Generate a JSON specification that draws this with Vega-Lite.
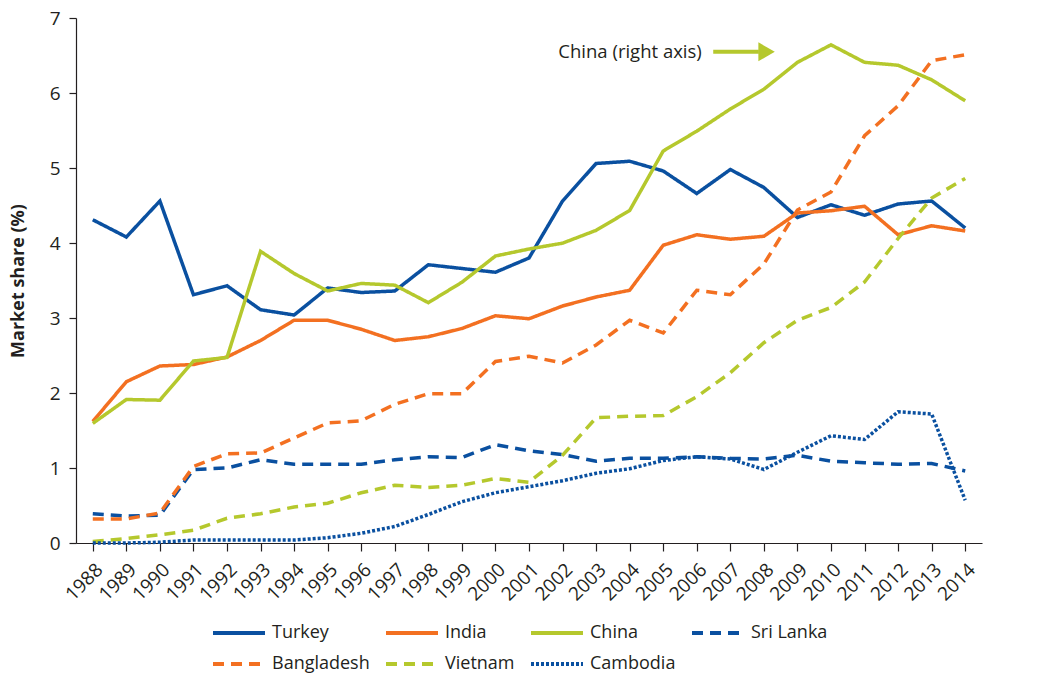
{
  "$schema": "https://vega.github.io/schema/vega-lite/v6.json",
  "width": 906,
  "height": 525,
  "autosize": "none",
  "padding": {"left": 76, "top": 18, "right": 82, "bottom": 131},
  "background": "white",
  "config": {
    "view": {"stroke": null},
    "font": "Open Sans",
    "axis": {
      "grid": false,
      "domainColor": "#231f20",
      "tickColor": "#231f20",
      "labelColor": "#231f20",
      "titleColor": "#231f20",
      "labelFont": "Open Sans",
      "titleFont": "Open Sans",
      "labelFontSize": 19,
      "titleFontSize": 18,
      "titleFontWeight": "bold",
      "domainWidth": 1.2,
      "tickWidth": 1.2,
      "tickSize": 7
    },
    "legend": {
      "labelFont": "Open Sans",
      "labelFontSize": 18,
      "labelColor": "#231f20"
    }
  },
  "datasets": {
    "shares": [
      {"year":1988,"country":"Turkey","share":4.31},{"year":1989,"country":"Turkey","share":4.08},{"year":1990,"country":"Turkey","share":4.56},{"year":1991,"country":"Turkey","share":3.31},{"year":1992,"country":"Turkey","share":3.43},{"year":1993,"country":"Turkey","share":3.11},{"year":1994,"country":"Turkey","share":3.04},{"year":1995,"country":"Turkey","share":3.40},{"year":1996,"country":"Turkey","share":3.34},{"year":1997,"country":"Turkey","share":3.36},{"year":1998,"country":"Turkey","share":3.71},{"year":1999,"country":"Turkey","share":3.66},{"year":2000,"country":"Turkey","share":3.61},{"year":2001,"country":"Turkey","share":3.80},{"year":2002,"country":"Turkey","share":4.56},{"year":2003,"country":"Turkey","share":5.06},{"year":2004,"country":"Turkey","share":5.09},{"year":2005,"country":"Turkey","share":4.96},{"year":2006,"country":"Turkey","share":4.66},{"year":2007,"country":"Turkey","share":4.98},{"year":2008,"country":"Turkey","share":4.74},{"year":2009,"country":"Turkey","share":4.34},{"year":2010,"country":"Turkey","share":4.51},{"year":2011,"country":"Turkey","share":4.37},{"year":2012,"country":"Turkey","share":4.52},{"year":2013,"country":"Turkey","share":4.56},{"year":2014,"country":"Turkey","share":4.20},
      {"year":1988,"country":"India","share":1.62},{"year":1989,"country":"India","share":2.15},{"year":1990,"country":"India","share":2.36},{"year":1991,"country":"India","share":2.38},{"year":1992,"country":"India","share":2.48},{"year":1993,"country":"India","share":2.70},{"year":1994,"country":"India","share":2.97},{"year":1995,"country":"India","share":2.97},{"year":1996,"country":"India","share":2.85},{"year":1997,"country":"India","share":2.70},{"year":1998,"country":"India","share":2.75},{"year":1999,"country":"India","share":2.86},{"year":2000,"country":"India","share":3.03},{"year":2001,"country":"India","share":2.99},{"year":2002,"country":"India","share":3.16},{"year":2003,"country":"India","share":3.28},{"year":2004,"country":"India","share":3.37},{"year":2005,"country":"India","share":3.97},{"year":2006,"country":"India","share":4.11},{"year":2007,"country":"India","share":4.05},{"year":2008,"country":"India","share":4.09},{"year":2009,"country":"India","share":4.40},{"year":2010,"country":"India","share":4.43},{"year":2011,"country":"India","share":4.49},{"year":2012,"country":"India","share":4.11},{"year":2013,"country":"India","share":4.23},{"year":2014,"country":"India","share":4.16},
      {"year":1988,"country":"China","share":10.25},{"year":1989,"country":"China","share":12.3},{"year":1990,"country":"China","share":12.24},{"year":1991,"country":"China","share":15.6},{"year":1992,"country":"China","share":15.9},{"year":1993,"country":"China","share":25.0},{"year":1994,"country":"China","share":23.1},{"year":1995,"country":"China","share":21.6},{"year":1996,"country":"China","share":22.25},{"year":1997,"country":"China","share":22.1},{"year":1998,"country":"China","share":20.6},{"year":1999,"country":"China","share":22.35},{"year":2000,"country":"China","share":24.6},{"year":2001,"country":"China","share":25.2},{"year":2002,"country":"China","share":25.7},{"year":2003,"country":"China","share":26.8},{"year":2004,"country":"China","share":28.5},{"year":2005,"country":"China","share":33.6},{"year":2006,"country":"China","share":35.3},{"year":2007,"country":"China","share":37.2},{"year":2008,"country":"China","share":38.9},{"year":2009,"country":"China","share":41.2},{"year":2010,"country":"China","share":42.7},{"year":2011,"country":"China","share":41.2},{"year":2012,"country":"China","share":40.95},{"year":2013,"country":"China","share":39.7},{"year":2014,"country":"China","share":37.9},
      {"year":1988,"country":"Sri Lanka","share":0.39},{"year":1989,"country":"Sri Lanka","share":0.36},{"year":1990,"country":"Sri Lanka","share":0.37},{"year":1991,"country":"Sri Lanka","share":0.98},{"year":1992,"country":"Sri Lanka","share":1.00},{"year":1993,"country":"Sri Lanka","share":1.11},{"year":1994,"country":"Sri Lanka","share":1.05},{"year":1995,"country":"Sri Lanka","share":1.05},{"year":1996,"country":"Sri Lanka","share":1.05},{"year":1997,"country":"Sri Lanka","share":1.11},{"year":1998,"country":"Sri Lanka","share":1.15},{"year":1999,"country":"Sri Lanka","share":1.14},{"year":2000,"country":"Sri Lanka","share":1.31},{"year":2001,"country":"Sri Lanka","share":1.23},{"year":2002,"country":"Sri Lanka","share":1.18},{"year":2003,"country":"Sri Lanka","share":1.09},{"year":2004,"country":"Sri Lanka","share":1.13},{"year":2005,"country":"Sri Lanka","share":1.13},{"year":2006,"country":"Sri Lanka","share":1.15},{"year":2007,"country":"Sri Lanka","share":1.13},{"year":2008,"country":"Sri Lanka","share":1.12},{"year":2009,"country":"Sri Lanka","share":1.17},{"year":2010,"country":"Sri Lanka","share":1.09},{"year":2011,"country":"Sri Lanka","share":1.07},{"year":2012,"country":"Sri Lanka","share":1.05},{"year":2013,"country":"Sri Lanka","share":1.06},{"year":2014,"country":"Sri Lanka","share":0.96},
      {"year":1988,"country":"Bangladesh","share":0.32},{"year":1989,"country":"Bangladesh","share":0.32},{"year":1990,"country":"Bangladesh","share":0.40},{"year":1991,"country":"Bangladesh","share":1.02},{"year":1992,"country":"Bangladesh","share":1.19},{"year":1993,"country":"Bangladesh","share":1.20},{"year":1994,"country":"Bangladesh","share":1.40},{"year":1995,"country":"Bangladesh","share":1.60},{"year":1996,"country":"Bangladesh","share":1.63},{"year":1997,"country":"Bangladesh","share":1.85},{"year":1998,"country":"Bangladesh","share":1.99},{"year":1999,"country":"Bangladesh","share":1.99},{"year":2000,"country":"Bangladesh","share":2.42},{"year":2001,"country":"Bangladesh","share":2.49},{"year":2002,"country":"Bangladesh","share":2.40},{"year":2003,"country":"Bangladesh","share":2.64},{"year":2004,"country":"Bangladesh","share":2.97},{"year":2005,"country":"Bangladesh","share":2.80},{"year":2006,"country":"Bangladesh","share":3.37},{"year":2007,"country":"Bangladesh","share":3.31},{"year":2008,"country":"Bangladesh","share":3.72},{"year":2009,"country":"Bangladesh","share":4.44},{"year":2010,"country":"Bangladesh","share":4.68},{"year":2011,"country":"Bangladesh","share":5.43},{"year":2012,"country":"Bangladesh","share":5.83},{"year":2013,"country":"Bangladesh","share":6.43},{"year":2014,"country":"Bangladesh","share":6.51},
      {"year":1988,"country":"Vietnam","share":0.02},{"year":1989,"country":"Vietnam","share":0.06},{"year":1990,"country":"Vietnam","share":0.11},{"year":1991,"country":"Vietnam","share":0.17},{"year":1992,"country":"Vietnam","share":0.33},{"year":1993,"country":"Vietnam","share":0.39},{"year":1994,"country":"Vietnam","share":0.48},{"year":1995,"country":"Vietnam","share":0.53},{"year":1996,"country":"Vietnam","share":0.67},{"year":1997,"country":"Vietnam","share":0.77},{"year":1998,"country":"Vietnam","share":0.74},{"year":1999,"country":"Vietnam","share":0.77},{"year":2000,"country":"Vietnam","share":0.86},{"year":2001,"country":"Vietnam","share":0.81},{"year":2002,"country":"Vietnam","share":1.17},{"year":2003,"country":"Vietnam","share":1.67},{"year":2004,"country":"Vietnam","share":1.69},{"year":2005,"country":"Vietnam","share":1.70},{"year":2006,"country":"Vietnam","share":1.95},{"year":2007,"country":"Vietnam","share":2.27},{"year":2008,"country":"Vietnam","share":2.67},{"year":2009,"country":"Vietnam","share":2.97},{"year":2010,"country":"Vietnam","share":3.14},{"year":2011,"country":"Vietnam","share":3.48},{"year":2012,"country":"Vietnam","share":4.06},{"year":2013,"country":"Vietnam","share":4.60},{"year":2014,"country":"Vietnam","share":4.86},
      {"year":1988,"country":"Cambodia","share":0.0},{"year":1989,"country":"Cambodia","share":0.0},{"year":1990,"country":"Cambodia","share":0.01},{"year":1991,"country":"Cambodia","share":0.04},{"year":1992,"country":"Cambodia","share":0.04},{"year":1993,"country":"Cambodia","share":0.04},{"year":1994,"country":"Cambodia","share":0.04},{"year":1995,"country":"Cambodia","share":0.07},{"year":1996,"country":"Cambodia","share":0.13},{"year":1997,"country":"Cambodia","share":0.22},{"year":1998,"country":"Cambodia","share":0.38},{"year":1999,"country":"Cambodia","share":0.55},{"year":2000,"country":"Cambodia","share":0.67},{"year":2001,"country":"Cambodia","share":0.75},{"year":2002,"country":"Cambodia","share":0.83},{"year":2003,"country":"Cambodia","share":0.93},{"year":2004,"country":"Cambodia","share":0.99},{"year":2005,"country":"Cambodia","share":1.10},{"year":2006,"country":"Cambodia","share":1.15},{"year":2007,"country":"Cambodia","share":1.12},{"year":2008,"country":"Cambodia","share":0.98},{"year":2009,"country":"Cambodia","share":1.21},{"year":2010,"country":"Cambodia","share":1.43},{"year":2011,"country":"Cambodia","share":1.38},{"year":2012,"country":"Cambodia","share":1.75},{"year":2013,"country":"Cambodia","share":1.72},{"year":2014,"country":"Cambodia","share":0.57}
    ],
    "note": [{"year": 2006.15, "share": 42.1, "label": "China (right axis)"}],
    "arrow": [{"year": 2006.49, "year2": 2007.85, "share": 42.1}],
    "head": [{"year": 2008.08, "share": 42.1}]
  },
  "resolve": {"scale": {"y": "independent", "x": "independent"}, "axis": {"x": "independent"}},
  "layer": [
    {
      "data": {"name": "shares"},
      "transform": [{"filter": "datum.country !== 'China'"}],
      "mark": {"type": "line", "strokeWidth": 3.5, "strokeCap": "butt", "strokeJoin": "miter"},
      "encoding": {
        "x": {
          "field": "year", "type": "ordinal",
          "scale": {"type": "point", "padding": 0.5},
          "axis": {"title": null, "labelAngle": -45, "labelPadding": 9, "labelOverlap": false, "tickSize": 8, "labelFontSize": 19}
        },
        "y": {
          "field": "share", "type": "quantitative",
          "scale": {"domain": [0, 7], "nice": false},
          "axis": {"title": "Market share (%)", "values": [0,1,2,3,4,5,6,7], "orient": "left", "labelPadding": 9, "titlePadding": 22}
        },
        "color": {
          "field": "country", "type": "nominal",
          "scale": {
            "domain": ["Turkey", "India", "China", "Sri Lanka", "Bangladesh", "Vietnam", "Cambodia"],
            "range": ["#0a50a0", "#f37021", "#b5c82d", "#0a50a0", "#f37021", "#b5c82d", "#0a50a0"]
          },
          "legend": {
            "title": null, "orient": "none", "legendX": 151, "legendY": 603,
            "direction": "horizontal", "columns": 4, "columnPadding": 8, "rowPadding": 10,
            "symbolType": "M-2.6,0H2.6", "symbolSize": 400, "symbolStrokeWidth": 4, "labelOffset": 21,
            "padding": 0
          }
        },
        "strokeDash": {
          "field": "country", "type": "nominal",
          "scale": {
            "domain": ["Turkey", "India", "China", "Sri Lanka", "Bangladesh", "Vietnam", "Cambodia"],
            "range": [[1, 0], [1, 0], [1, 0], [11, 7], [11, 7], [11, 7], [3, 2]]
          },
          "legend": {
            "title": null, "orient": "none", "legendX": 151, "legendY": 603,
            "direction": "horizontal", "columns": 4, "columnPadding": 8, "rowPadding": 10,
            "symbolType": "M-2.6,0H2.6", "symbolSize": 400, "symbolStrokeWidth": 4, "labelOffset": 21,
            "padding": 0
          }
        }
      }
    },
    {
      "layer": [
        {
          "data": {"name": "shares"},
          "transform": [{"filter": "datum.country === 'China'"}],
          "mark": {"type": "line", "strokeWidth": 3.5, "strokeCap": "butt", "strokeJoin": "miter"},
          "encoding": {
            "x": {
              "field": "year", "type": "quantitative",
              "scale": {"domain": [1987.5, 2014.5], "nice": false, "zero": false},
              "axis": null
            },
            "y": {
              "field": "share", "type": "quantitative",
              "scale": {"domain": [0, 45], "nice": false},
              "axis": {"title": "Market share (%)", "values": [0,5,10,15,20,25,30,35,40,45], "orient": "right", "labelPadding": 8, "titlePadding": 20}
            },
            "color": {"field": "country", "type": "nominal"},
            "strokeDash": {"field": "country", "type": "nominal"}
          }
        },
        {
          "data": {"name": "note"},
          "mark": {"type": "text", "align": "right", "baseline": "middle", "fontSize": 18.5, "font": "Open Sans", "color": "#231f20"},
          "encoding": {
            "x": {"field": "year", "type": "quantitative", "axis": null},
            "y": {"field": "share", "type": "quantitative", "axis": null},
            "text": {"field": "label"}
          }
        },
        {
          "data": {"name": "arrow"},
          "mark": {"type": "rule", "strokeWidth": 4, "color": "#b5c82d"},
          "encoding": {
            "x": {"field": "year", "type": "quantitative", "axis": null},
            "x2": {"field": "year2"},
            "y": {"field": "share", "type": "quantitative", "axis": null}
          }
        },
        {
          "data": {"name": "head"},
          "mark": {"type": "point", "shape": "triangle-right", "filled": true, "opacity": 1, "size": 360, "color": "#b5c82d"},
          "encoding": {
            "x": {"field": "year", "type": "quantitative", "axis": null},
            "y": {"field": "share", "type": "quantitative", "axis": null}
          }
        }
      ]
    }
  ]
}
